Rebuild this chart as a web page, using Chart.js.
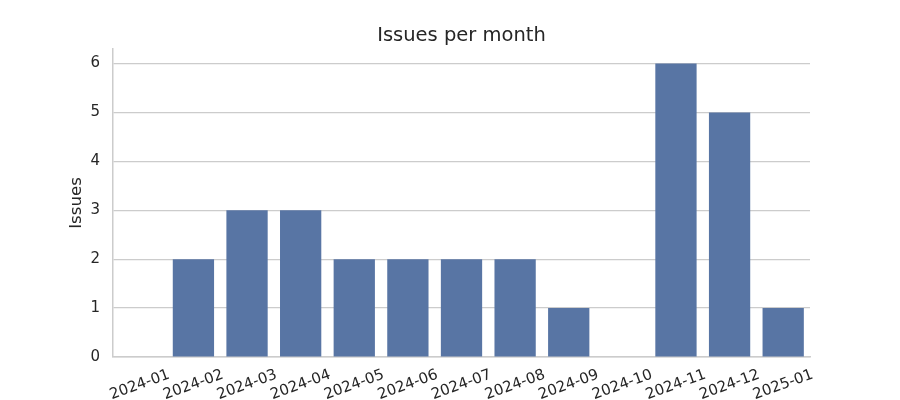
<!DOCTYPE html>
<html>
<head>
<meta charset="utf-8">
<script src="https://cdn.jsdelivr.net/npm/chart.js@4"></script>
<style>
  html, body { margin: 0; padding: 0; background: #ffffff; }
  #wrap { width: 900px; height: 400px; }
</style>
</head>
<body>
<div id="wrap"><canvas id="grafico" width="900" height="400"></canvas></div>
<script>
// dados do gráfico
const meses = ['2024-01', '2024-02', '2024-03', '2024-04', '2024-05', '2024-06', '2024-07',
               '2024-08', '2024-09', '2024-10', '2024-11', '2024-12', '2025-01']
const issues = [0, 2, 3, 3, 2, 2, 2, 2, 1, 0, 6, 5, 1]
const yTicks = [0, 1, 2, 3, 4, 5, 6]

const corTexto = '#262626'
const corGrade = '#cccccc'
const fonte = "'DejaVu Sans', sans-serif"

// labels do eixo x giradas e centradas no tick (estilo matplotlib)
const labelsRotacionadas = {
  id: 'labelsRotacionadas',
  afterDraw(chart) {
    const ctx = chart.ctx
    const escalaX = chart.scales.x
    const base = chart.chartArea.bottom + 28
    ctx.save()
    ctx.font = '15px ' + fonte
    ctx.fillStyle = corTexto
    ctx.textAlign = 'center'
    ctx.textBaseline = 'middle'
    meses.forEach((mes, i) => {
      const x = escalaX.getPixelForTick(i)
      ctx.save()
      ctx.translate(x, base)
      ctx.rotate(-20 * Math.PI / 180)
      ctx.fillText(mes, 0, 0)
      ctx.restore()
    })
    ctx.restore()
  }
}

new Chart(document.getElementById('grafico'), {
  type: 'bar',
  data: {
    labels: meses,
    datasets: [{
      label: 'Issues',
      data: issues,
      backgroundColor: '#5875a4',
      borderColor: '#ffffff',
      borderWidth: 0,
      barPercentage: 0.77,
      categoryPercentage: 1.0
    }]
  },
  options: {
    responsive: false,
    animation: false,
    devicePixelRatio: 1,
    layout: { padding: { left: 0, right: 90, top: 0, bottom: 0 } },
    plugins: {
      legend: { display: false },
      tooltip: { enabled: false },
      title: {
        display: true,
        text: 'Issues per month',
        color: corTexto,
        font: { family: fonte, size: 19.5, weight: 'normal' },
        padding: { top: 24.5, bottom: 1 },
        fullSize: false
      }
    },
    scales: {
      x: {
        grid: { display: false, drawTicks: false },
        border: { display: true, color: corGrade, width: 1.5 },
        ticks: { display: false },
        afterFit(scale) { scale.height = 43 }
      },
      y: {
        min: 0,
        max: 6.3,
        grid: { color: corGrade, lineWidth: 1.2, drawTicks: false },
        border: { display: true, color: corGrade, width: 1.5 },
        ticks: {
          stepSize: 1,
          padding: 13,
          color: corTexto,
          font: { family: fonte, size: 15 }
        },
        afterBuildTicks(scale) {
          scale.ticks = yTicks.map(v => ({ value: v }))
        },
        title: {
          display: true,
          text: 'Issues',
          color: corTexto,
          font: { family: fonte, size: 16.7 },
          padding: { top: 67, bottom: 0 }
        },
        afterFit(scale) { scale.width = 113 }
      }
    }
  },
  plugins: [labelsRotacionadas]
})
</script>
</body>
</html>
